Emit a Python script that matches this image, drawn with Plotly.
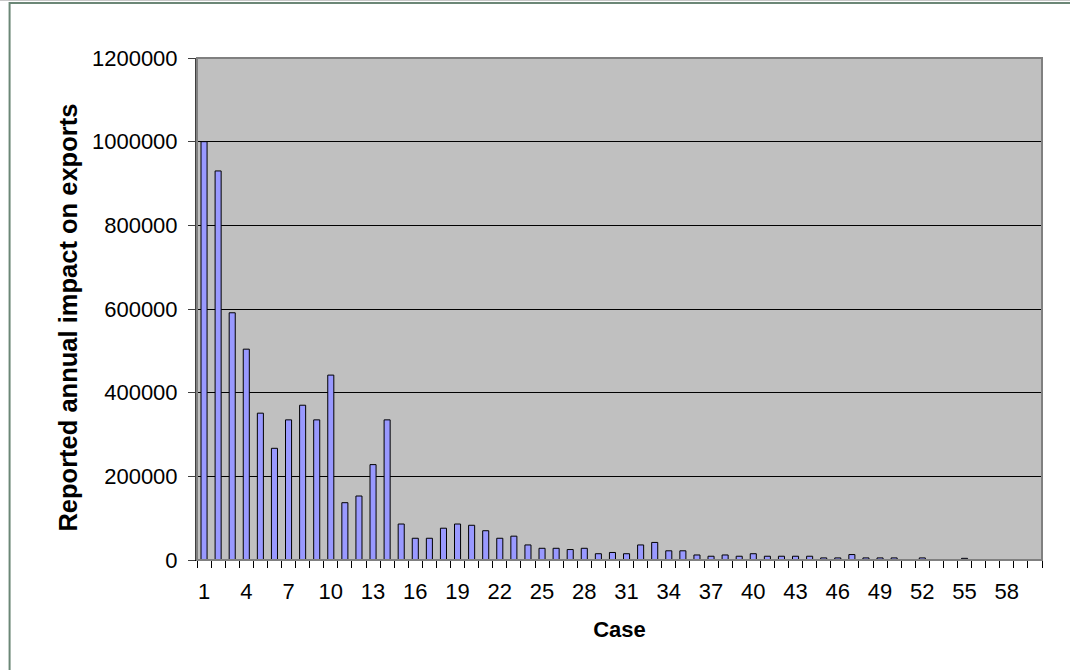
import plotly.graph_objects as go

cases = list(range(1, 61))
impact = [1000000, 930000, 591000, 504000, 351000, 267000, 335000, 370000, 335000, 442000,
          137000, 153000, 228000, 335000, 86000, 52000, 52000, 76000, 86000, 83000,
          70000, 52000, 57000, 36000, 28000, 28000, 25000, 28000, 15000, 18000,
          15000, 36000, 42000, 22000, 22000, 12000, 9000, 12000, 9000, 15000,
          9000, 9000, 9000, 9000, 5000, 5000, 13000, 5000, 5000, 5000,
          0, 5000, 0, 0, 4000, 0, 0, 0, 0, 0]
x_labels = list(range(1, 61, 3))
y_ticks = list(range(0, 1200001, 200000))
y_title = "Reported annual impact on exports"
x_title = "Case"

FONT = "Liberation Sans, Arial, sans-serif"

fig = go.Figure()
fig.add_trace(go.Bar(
    x=cases, y=impact,
    marker=dict(color="#9999ff", line=dict(color="#000000", width=1)),
))

fig.update_layout(
    width=1070, height=670,
    margin=dict(l=197, r=28, t=58, b=110),
    paper_bgcolor="white",
    plot_bgcolor="#c0c0c0",
    bargap=0.57,
    showlegend=False,
    font=dict(family=FONT, size=22, color="#000000"),
    xaxis=dict(
        range=[0.5, 60.5],
        tickvals=x_labels,
        ticktext=[str(v) for v in x_labels],
        ticks="",
        showgrid=False,
        zeroline=False,
        showline=True, linecolor="#000000", linewidth=1,
        tickfont=dict(size=22),
        ticklabelstandoff=12,
        minor=dict(tick0=0.5, dtick=1, ticks="outside", ticklen=7,
                   tickcolor="#000000", tickwidth=1, showgrid=False),
        title=dict(text="<b>" + x_title + "</b>", font=dict(size=22), standoff=18),
    ),
    yaxis=dict(
        range=[0, 1200000],
        tickvals=y_ticks,
        ticktext=[str(v) for v in y_ticks],
        ticks="outside", ticklen=7, tickcolor="#404040", tickwidth=1,
        ticklabelstandoff=6,
        showgrid=True, gridcolor="#000000", gridwidth=1,
        zeroline=False,
        showline=True, linecolor="#404040", linewidth=2,
        tickfont=dict(size=22),
    ),
    annotations=[
        dict(text="<b>" + y_title + "</b>", xref="paper", yref="paper",
             x=-0.1538, y=0.483, xanchor="center", yanchor="middle",
             textangle=-90, showarrow=False, font=dict(size=25.5)),
    ],
    shapes=[
        dict(type="rect", xref="paper", yref="paper", x0=0, x1=1, y0=0, y1=1,
             line=dict(color="#808080", width=2), layer="above"),
        dict(type="rect", xref="paper", yref="paper", x0=-0.3, x1=1.1, y0=1.1135, y1=1.2,
             fillcolor="#c8c8c8", line=dict(width=0), layer="below"),
        dict(type="rect", xref="paper", yref="paper", x0=-0.2218, x1=1.1, y0=-0.5, y1=1.1096,
             line=dict(color="#6b8776", width=2), layer="below"),
    ],
)

fig.write_html("out.html")
